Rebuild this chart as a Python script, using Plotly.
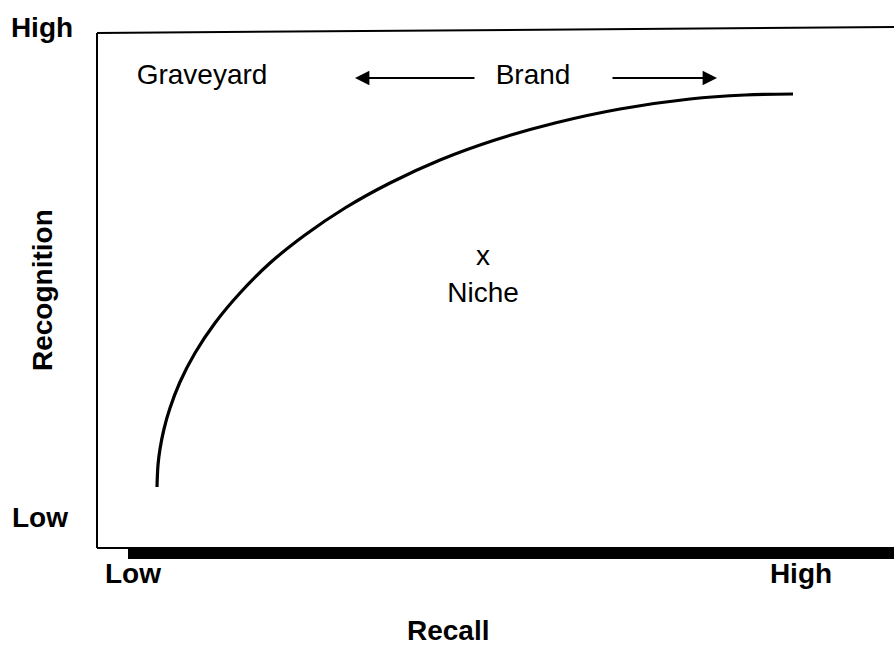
import plotly.graph_objects as go

# frame is laid out in a 894 x 646 coordinate space (y grows downward)
W, H = 894, 646

# recall / recognition curve
curve_x = [157, 158, 160, 164, 170, 180, 195, 215, 240, 270, 305, 345, 390, 440, 495, 555, 620, 690, 745, 793]
curve_y = [487, 465, 449, 429, 408, 382, 353, 323, 293, 263, 235, 208, 183, 160, 140, 123, 109, 99, 95, 94]

# text labels
label_text = ["Graveyard", "Brand", "x", "Niche"]
label_x = [202, 533, 483, 483]
label_y = [77, 77, 258, 295]

axis_text = ["High", "Low", "Low", "High"]
axis_x = [42, 40, 133, 801]
axis_y = [30, 520, 576, 576]

FONT = "Liberation Sans, Arial"

fig = go.Figure()

fig.add_trace(go.Scatter(x=curve_x, y=curve_y, mode="lines",
                         line=dict(color="black", width=3.2, shape="spline", smoothing=1),
                         hoverinfo="skip", showlegend=False))

fig.add_trace(go.Scatter(x=label_x, y=label_y, mode="text", text=label_text,
                         textfont=dict(family=FONT, size=28, color="black"),
                         hoverinfo="skip", showlegend=False))

fig.add_trace(go.Scatter(x=axis_x, y=axis_y, mode="text",
                         text=["<b>%s</b>" % t for t in axis_text],
                         textfont=dict(family=FONT, size=28, color="black"),
                         hoverinfo="skip", showlegend=False))

# frame lines
fig.add_shape(type="line", x0=97, y0=33, x1=97, y1=548, line=dict(color="black", width=2))
fig.add_shape(type="line", x0=97, y0=33, x1=894, y1=27, line=dict(color="black", width=2))
fig.add_shape(type="line", x0=97, y0=548, x1=130, y1=548, line=dict(color="black", width=2))
fig.add_shape(type="rect", x0=128, y0=547, x1=894, y1=559, fillcolor="black", line=dict(width=0))

# Brand arrows
fig.add_annotation(x=355, y=78, ax=476, ay=78, xref="x", yref="y", axref="x", ayref="y",
                   text="", showarrow=True, arrowhead=2, arrowsize=1.6, arrowwidth=1.8, arrowcolor="black")
fig.add_annotation(x=717, y=78, ax=611, ay=78, xref="x", yref="y", axref="x", ayref="y",
                   text="", showarrow=True, arrowhead=2, arrowsize=1.6, arrowwidth=1.8, arrowcolor="black")

# axis titles
fig.add_annotation(x=448, y=630, xref="x", yref="y", text="<b>Recall</b>", showarrow=False,
                   font=dict(family=FONT, size=28, color="black"))
fig.add_annotation(x=42, y=290, xref="x", yref="y", text="<b>Recognition</b>", showarrow=False,
                   textangle=-90, font=dict(family=FONT, size=28, color="black"))

fig.update_layout(width=W, height=H, margin=dict(l=0, r=0, t=0, b=0),
                  plot_bgcolor="white", paper_bgcolor="white", showlegend=False)
fig.update_xaxes(range=[0, W], visible=False, fixedrange=True)
fig.update_yaxes(range=[H, 0], visible=False, fixedrange=True)

fig.write_html("out.html", config={"displayModeBar": False},
               post_script="document.body.style.margin='0';")
